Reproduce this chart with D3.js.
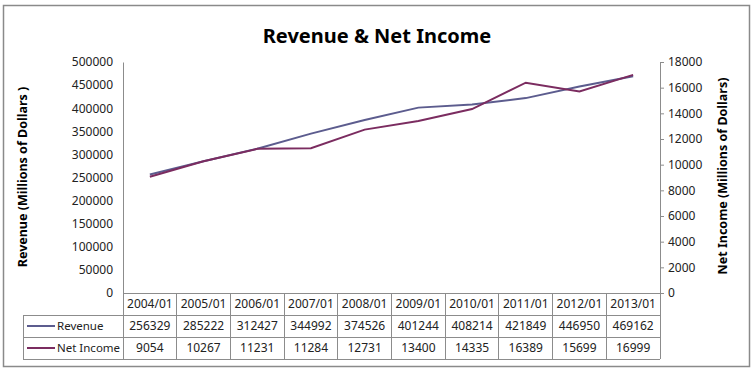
<!DOCTYPE html>
<html>
<head>
<meta charset="utf-8">
<script src="https://cdn.jsdelivr.net/npm/d3@7"></script>
<style>
  body { margin: 0; background: #fff; }
  text { font-family: "Noto Sans", "Open Sans", sans-serif; fill: #222; }
</style>
</head>
<body>
<div id="vis"></div>
<script>
// chart data
var years = ["2004/01", "2005/01", "2006/01", "2007/01", "2008/01", "2009/01", "2010/01", "2011/01", "2012/01", "2013/01"];
var revenue = [256329, 285222, 312427, 344992, 374526, 401244, 408214, 421849, 446950, 469162];
var netIncome = [9054, 10267, 11231, 11284, 12731, 13400, 14335, 16389, 15699, 16999];
var revTicks = [0, 50000, 100000, 150000, 200000, 250000, 300000, 350000, 400000, 450000, 500000];
var incTicks = [0, 2000, 4000, 6000, 8000, 10000, 12000, 14000, 16000, 18000];

var w = 754, h = 371;
var plotLeft = 123, plotRight = 660, plotTop = 62, plotBottom = 293;
var rowH = 22;
var revColor = "#5c5c8e", incColor = "#7b2c60", gridColor = "#8c8c8c";

var svg = d3.select("#vis").append("svg")
  .attr("width", w)
  .attr("height", h);

// outer frame
svg.append("rect")
  .attr("x", 3.5).attr("y", 5.5)
  .attr("width", 746).attr("height", 361)
  .attr("fill", "none").attr("stroke", "#8a8a8a").attr("stroke-width", 1.5);

svg.append("text")
  .attr("x", 377).attr("y", 43)
  .attr("text-anchor", "middle")
  .style("font-size", "20px").style("font-weight", "bold").style("fill", "#000")
  .text("Revenue & Net Income");

var x = d3.scaleBand().domain(years).range([plotLeft, plotRight]);
var yL = d3.scaleLinear().domain([0, 500000]).range([plotBottom, plotTop]);
var yR = d3.scaleLinear().domain([0, 18000]).range([plotBottom, plotTop]);

// left axis
var gL = svg.append("g")
  .attr("transform", "translate(" + plotLeft + ",0)")
  .call(d3.axisLeft(yL).tickValues(revTicks).tickSize(0).tickPadding(10).tickFormat(d3.format("d")));
gL.select(".domain").attr("stroke", gridColor);
gL.selectAll("text").style("font-size", "12px").style("font-family", "'Noto Sans', sans-serif").attr("fill", "#222");

// right axis
var gR = svg.append("g")
  .attr("transform", "translate(" + plotRight + ",0)")
  .call(d3.axisRight(yR).tickValues(incTicks).tickSize(4).tickSizeOuter(0).tickPadding(4).tickFormat(d3.format("d")));
gR.select(".domain").attr("stroke", gridColor);
gR.selectAll(".tick line").attr("stroke", gridColor);
gR.selectAll("text").style("font-size", "12px").style("font-family", "'Noto Sans', sans-serif").attr("fill", "#222");

// axis titles
svg.append("text")
  .attr("transform", "translate(27,177) rotate(-90)")
  .attr("text-anchor", "middle")
  .style("font-size", "12.5px").style("font-weight", "bold").style("fill", "#000")
  .text("Revenue (Millions of Dollars )");
svg.append("text")
  .attr("transform", "translate(727,176) rotate(-90)")
  .attr("text-anchor", "middle")
  .style("font-size", "12.5px").style("font-weight", "bold").style("fill", "#000")
  .text("Net Income (Millions of Dollars)");

// lines
var cx = function(d, i) { return x(years[i]) + x.bandwidth() / 2; };
svg.append("path")
  .datum(revenue)
  .attr("fill", "none").attr("stroke", revColor).attr("stroke-width", 2)
  .attr("d", d3.line().x(cx).y(function(d) { return yL(d); }));
svg.append("path")
  .datum(netIncome)
  .attr("fill", "none").attr("stroke", incColor).attr("stroke-width", 2)
  .attr("d", d3.line().x(cx).y(function(d) { return yR(d); }));

// data table
var table = svg.append("g");
var rows = [
  { name: "Revenue", values: revenue, color: revColor },
  { name: "Net Income", values: netIncome, color: incColor }
];
var tableBottom = plotBottom + rowH * 3;
// horizontal lines
table.append("line").attr("x1", plotLeft).attr("x2", plotRight).attr("y1", plotBottom).attr("y2", plotBottom);
[1, 2, 3].forEach(function(r) {
  table.append("line").attr("x1", 23).attr("x2", plotRight)
    .attr("y1", plotBottom + rowH * r).attr("y2", plotBottom + rowH * r);
});
// vertical lines
years.forEach(function(c) {
  table.append("line").attr("x1", x(c)).attr("x2", x(c)).attr("y1", plotBottom).attr("y2", tableBottom);
});
table.append("line").attr("x1", plotRight).attr("x2", plotRight).attr("y1", plotBottom).attr("y2", tableBottom);
table.append("line").attr("x1", 23).attr("x2", 23).attr("y1", plotBottom + rowH).attr("y2", tableBottom);
table.selectAll("line").attr("stroke", gridColor).attr("stroke-width", 1).attr("shape-rendering", "crispEdges");

table.selectAll("text.head").data(years).enter().append("text")
  .attr("x", function(d) { return x(d) + x.bandwidth() / 2; })
  .attr("y", plotBottom + rowH / 2 + 4)
  .attr("text-anchor", "middle")
  .style("font-size", "12px")
  .text(function(d) { return d; });

rows.forEach(function(r, ri) {
  var yMid = plotBottom + rowH * (ri + 1) + rowH / 2;
  table.append("line")
    .attr("x1", 27).attr("x2", 55).attr("y1", yMid).attr("y2", yMid)
    .attr("stroke", r.color).attr("stroke-width", 2);
  table.append("text")
    .attr("x", 57).attr("y", yMid + 4)
    .style("font-size", "11.5px")
    .text(r.name);
  table.selectAll("text.v" + ri).data(r.values).enter().append("text")
    .attr("x", function(d, i) { return x(years[i]) + x.bandwidth() / 2; })
    .attr("y", yMid + 4)
    .attr("text-anchor", "middle")
    .style("font-size", "12px")
    .text(function(d) { return d; });
});
</script>
</body>
</html>
